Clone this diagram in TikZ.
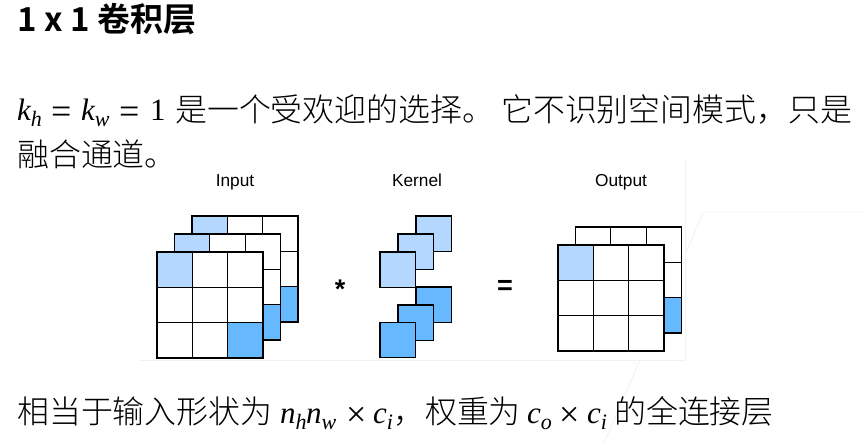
\documentclass[tikz,border=0pt]{standalone}
\usepackage{fontspec}
\setmainfont{Liberation Sans}
\newfontfamily\cjk{Noto Sans CJK SC Light}
\newfontfamily\cjkb{Noto Sans CJK SC Bold}
\newfontfamily\mser{Liberation Serif}
\newcommand{\mvar}[2]{{\mser\itshape #1\raisebox{-6pt}{\fontsize{22}{22}\selectfont #2}}}
\definecolor{lightb}{HTML}{B3D7FF}
\definecolor{darkb}{HTML}{66B8FF}
\tikzset{
  cell/.style={draw=black,line width=1.3pt,fill=white,line join=miter},
  lt/.style={cell,fill=lightb},
  dk/.style={cell,fill=darkb},
  faint/.style={draw=black!5,line width=0.8pt},
  txt/.style={inner sep=0pt,anchor=base west,text=black},
  cn/.style={txt,font=\cjk\fontsize{31.9}{32}\selectfont},
  mth/.style={txt,font=\mser\fontsize{31}{31}\selectfont},
  rel/.style={txt,font=\mser\fontsize{36}{36}\selectfont},
  lab/.style={inner sep=0pt,anchor=base,text=black,font=\fontsize{17.3}{18}\selectfont},
  opr/.style={inner sep=0pt,anchor=base,text=black,font=\bfseries\fontsize{27}{27}\selectfont}
}
\newcommand{\gridlayer}[4]{% x, y, light?, dark?
  \foreach \i in {0,1,2}{\foreach \j in {0,1,2}{
    \draw[cell] ({#1+\i*35.33},{#2+\j*35.33}) rectangle ++(35.33,35.33);}}
  \ifnum#3=1 \draw[lt] (#1,#2) rectangle ++(35.33,35.33);\fi
  \ifnum#4=1 \draw[dk] ({#1+70.67},{#2+70.67}) rectangle ++(35.33,35.33);\fi
}
\begin{document}
\begin{tikzpicture}[x=1pt,y=-1pt]
\useasboundingbox[fill=white] (0,0) rectangle (862,443);
% faint background edges
\draw[faint] (685,160) -- (685,360) -- (140,360);
\draw[faint] (862,212) -- (703,212) -- (685,255);
\draw[faint] (640,360) -- (604,443);
% title and text
\node[txt,font=\cjkb\fontsize{33}{33}\selectfont] (title) at (17,32) {1 x 1 卷积层};
\node[mth] (kh) at (17,121) {\mvar{k}{h}};
\node[rel] (eqa) at (51,124) {=};
\node[mth] (kw) at (81,121) {\mvar{k}{w}};
\node[rel] (eqb) at (119,124) {=};
\node[mth] (one) at (150,121) {1};
\node[cn] (la) at (175,122) {是一个受欢迎的选择。};
\node[cn] (lb) at (501,122) {它不识别空间模式，只是};
\node[cn] (lc) at (17,167) {融合通道。};
\node[cn] (da) at (17,424) {相当于输入形状为};
\node[mth] (nh) at (280,423) {\mvar{n}{h}};
\node[mth] (nw) at (306,423) {\mvar{n}{w}};
\node[rel] (ta) at (346,426) {×};
\node[mth] (ci) at (373,423) {\mvar{c}{i}};
\node[cn] (db) at (393,424) {，权重为};
\node[mth] (co) at (527,423) {\mvar{c}{o}};
\node[rel] (tb) at (559,426) {×};
\node[mth] (cj) at (587,423) {\mvar{c}{i}};
\node[cn] (dc) at (614,424) {的全连接层};
% labels
\node[lab] (input) at (235,187) {Input};
\node[lab] (kernel) at (417,187) {Kernel};
\node[lab] (output) at (621,187) {Output};
% input
\gridlayer{192}{216}{1}{1}
\gridlayer{174.5}{234}{1}{1}
\gridlayer{157}{252}{1}{1}
% kernel
\draw[lt] (416,216) rectangle ++(35.33,35.33);
\draw[lt] (398,234) rectangle ++(35.33,35.33);
\draw[lt] (380,252) rectangle ++(35.33,35.33);
\draw[dk] (416,287) rectangle ++(35.33,35.33);
\draw[dk] (398,305) rectangle ++(35.33,35.33);
\draw[dk] (380,322.5) rectangle ++(35.33,35.33);
% output
\gridlayer{575.5}{227}{0}{1}
\gridlayer{558}{245}{1}{0}
% operators
\node[opr] (star) at (340,299) {*};
\node[opr] (eq) at (505,295) {=};
\end{tikzpicture}
\end{document}
